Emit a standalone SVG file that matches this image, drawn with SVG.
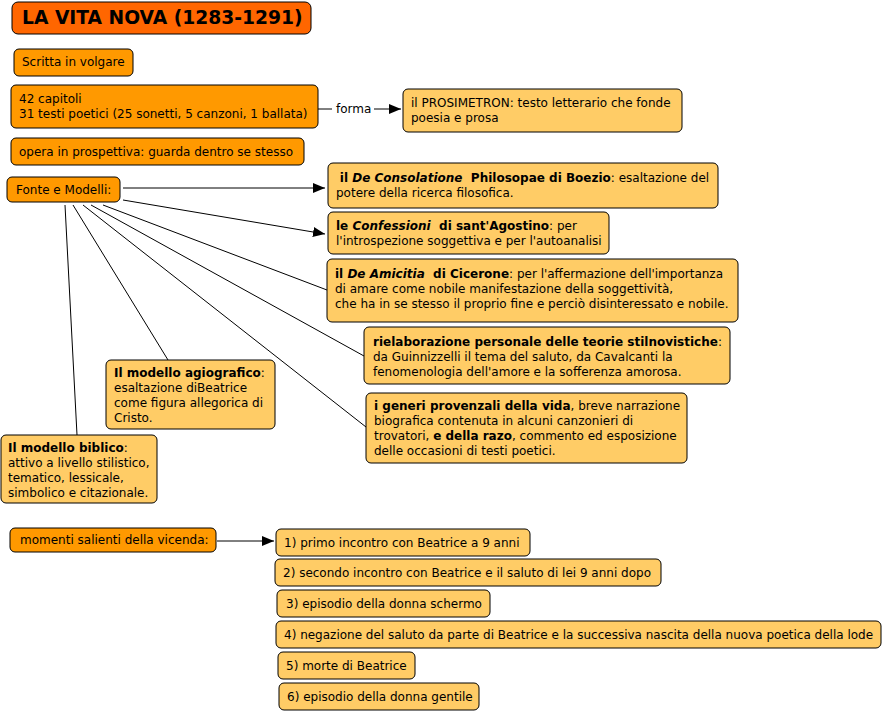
<svg xmlns="http://www.w3.org/2000/svg" width="884" height="712" viewBox="0 0 884 712">
<style>
text{font-family:"DejaVu Sans","Verdana",sans-serif;font-size:12px;fill:#000}
.b{font-weight:bold}
.i{font-style:italic}
.t{font-size:18.7px;font-weight:bold}
.n1{fill:#FF6600;stroke:#000;stroke-width:1}
.n2{fill:#FF9900;stroke:#000;stroke-width:1}
.n3{fill:#FFCC66;stroke:#000;stroke-width:1}
.c{stroke:#000;stroke-width:1;fill:none}
</style>
<defs>
<marker id="ah" markerWidth="12" markerHeight="10" refX="12" refY="5" orient="auto" markerUnits="userSpaceOnUse">
<path d="M0,0 L12,5 L0,10 Z" fill="#000"/>
</marker>
</defs>
<rect width="884" height="712" fill="#fff"/>
<g id="connectors">
<line class="c" x1="318" y1="109" x2="332" y2="109"/>
<text x="336" y="113">forma</text>
<line class="c" x1="374" y1="109" x2="401" y2="109" marker-end="url(#ah)"/>
<line class="c" x1="123" y1="188" x2="325" y2="188" marker-end="url(#ah)"/>
<line class="c" x1="123" y1="200" x2="325" y2="234" marker-end="url(#ah)"/>
<line class="c" x1="103" y1="205" x2="327" y2="290"/>
<line class="c" x1="91" y1="205" x2="364" y2="356"/>
<line class="c" x1="83" y1="205" x2="366" y2="427"/>
<line class="c" x1="73" y1="205" x2="168" y2="360"/>
<line class="c" x1="65" y1="205" x2="77" y2="435"/>
<line class="c" x1="217" y1="541" x2="274" y2="541" marker-end="url(#ah)"/>
</g>
<g id="title"><rect class="n1" x="12" y="2" width="299" height="32" rx="6"/><text class="t" x="22" y="24">LA VITA NOVA (1283-1291)</text></g>
<g id="volgare"><rect class="n2" x="14" y="49" width="119" height="27" rx="5"/><text x="22" y="66">Scritta in volgare</text></g>
<g id="capitoli"><rect class="n2" x="11" y="85" width="307" height="43" rx="5"/><text x="19" y="103">42 capitoli</text><text x="19" y="118">31 testi poetici (25 sonetti, 5 canzoni, 1 ballata)</text></g>
<g id="prosimetron"><rect class="n3" x="403" y="89" width="279" height="43" rx="5"/><text x="411" y="107">il PROSIMETRON: testo letterario che fonde</text><text x="411" y="122">poesia e prosa</text></g>
<g id="prospettiva"><rect class="n2" x="11" y="138" width="293" height="27" rx="5"/><text x="19" y="156">opera in prospettiva: guarda dentro se stesso</text></g>
<g id="fonte"><rect class="n2" x="7" y="177" width="113" height="25" rx="5"/><text x="16" y="194">Fonte e Modelli:</text></g>
<g id="boezio"><rect class="n3" x="328" y="163" width="390" height="45" rx="5"/><text x="336" y="182" xml:space="preserve"> <tspan class="b">il </tspan><tspan class="b i">De Consolatione</tspan><tspan class="b">  Philosopae di Boezio</tspan>: esaltazione del</text><text x="336" y="197">potere della ricerca filosofica.</text></g>
<g id="confessioni"><rect class="n3" x="328" y="212" width="281" height="42" rx="5"/><text x="336" y="230" xml:space="preserve"><tspan class="b">le </tspan><tspan class="b i">Confessioni</tspan><tspan class="b">  di sant'Agostino</tspan>: per</text><text x="336" y="245">l'introspezione soggettiva e per l'autoanalisi</text></g>
<g id="amicitia"><rect class="n3" x="327" y="259" width="411" height="63" rx="5"/><text x="335" y="278" xml:space="preserve"><tspan class="b">il </tspan><tspan class="b i">De Amicitia</tspan><tspan class="b">  di Cicerone</tspan>: per l'affermazione dell'importanza</text><text x="335" y="293">di amare come nobile manifestazione della soggettività,</text><text x="335" y="308">che ha in se stesso il proprio fine e perciò disinteressato e nobile.</text></g>
<g id="stilnovo"><rect class="n3" x="364" y="327" width="366" height="57" rx="5"/><text x="373" y="346"><tspan class="b">rielaborazione personale delle teorie stilnovistiche</tspan>:</text><text x="373" y="361">da Guinnizzelli il tema del saluto, da Cavalcanti la</text><text x="373" y="376">fenomenologia dell'amore e la sofferenza amorosa.</text></g>
<g id="provenzali"><rect class="n3" x="366" y="393" width="321" height="70" rx="5"/><text x="374" y="410"><tspan class="b">i generi provenzali della vida</tspan>, breve narrazione</text><text x="374" y="425">biografica contenuta in alcuni canzonieri di</text><text x="374" y="440">trovatori, <tspan class="b">e della razo</tspan>, commento ed esposizione</text><text x="374" y="455">delle occasioni di testi poetici.</text></g>
<g id="agiografico"><rect class="n3" x="106" y="360" width="169" height="69" rx="5"/><text x="114" y="377"><tspan class="b">Il modello agiografico</tspan>:</text><text x="114" y="392">esaltazione diBeatrice</text><text x="114" y="407">come figura allegorica di</text><text x="114" y="422">Cristo.</text></g>
<g id="biblico"><rect class="n3" x="1" y="435" width="156" height="68" rx="5"/><text x="8" y="452"><tspan class="b">Il modello biblico</tspan>:</text><text x="8" y="467">attivo a livello stilistico,</text><text x="8" y="482">tematico, lessicale,</text><text x="8" y="497">simbolico e citazionale.</text></g>
<g id="momenti"><rect class="n2" x="10" y="528" width="206" height="24" rx="5"/><text x="20" y="544">momenti salienti della vicenda:</text></g>
<g id="m1"><rect class="n3" x="276" y="529" width="254" height="27" rx="5"/><text x="284" y="547">1) primo incontro con Beatrice a 9 anni</text></g>
<g id="m2"><rect class="n3" x="275" y="559" width="386" height="27" rx="5"/><text x="283" y="577">2) secondo incontro con Beatrice e il saluto di lei 9 anni dopo</text></g>
<g id="m3"><rect class="n3" x="277" y="590" width="213" height="27" rx="5"/><text x="286" y="608">3) episodio della donna schermo</text></g>
<g id="m4"><rect class="n3" x="276" y="621" width="605" height="27" rx="5"/><text x="284" y="639">4) negazione del saluto da parte di Beatrice e la successiva nascita della nuova poetica della lode</text></g>
<g id="m5"><rect class="n3" x="278" y="652" width="137" height="27" rx="5"/><text x="286" y="670">5) morte di Beatrice</text></g>
<g id="m6"><rect class="n3" x="279" y="683" width="200" height="27" rx="5"/><text x="287" y="701">6) episodio della donna gentile</text></g>
</svg>
